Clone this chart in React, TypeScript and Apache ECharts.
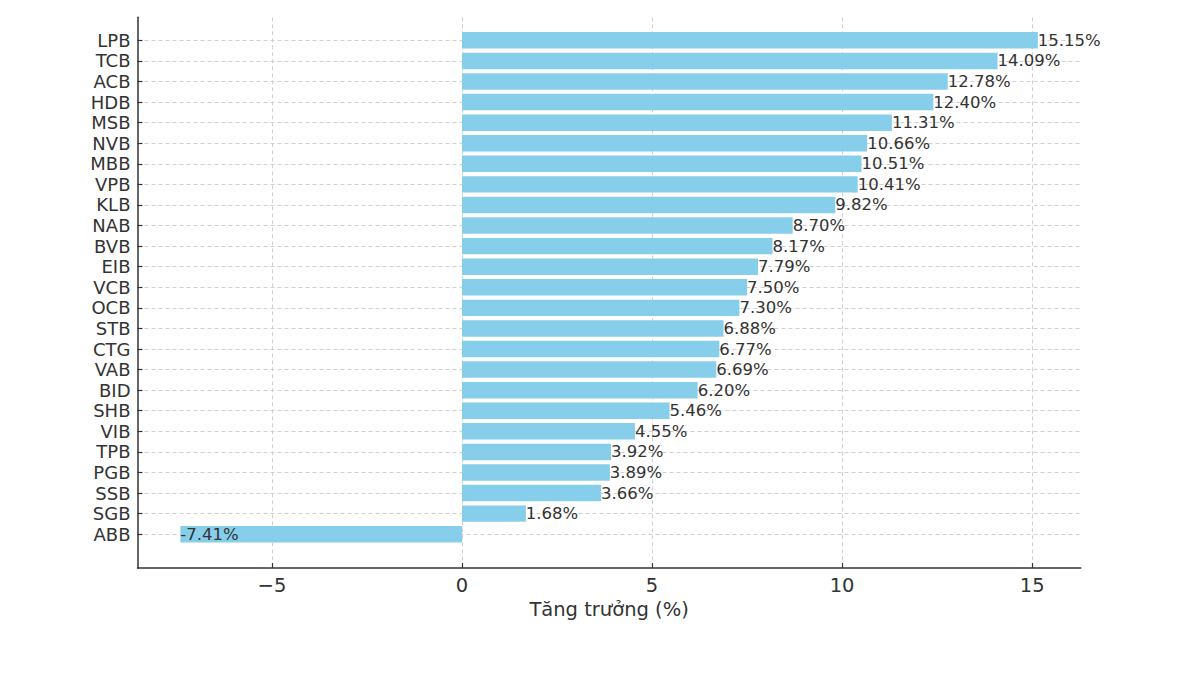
import React, { useEffect, useRef } from "react";
import * as echarts from "echarts";

const banks = ["LPB","TCB","ACB","HDB","MSB","NVB","MBB","VPB","KLB","NAB","BVB","EIB","VCB","OCB","STB","CTG","VAB","BID","SHB","VIB","TPB","PGB","SSB","SGB","ABB"];
const growth = [15.15,14.09,12.78,12.40,11.31,10.66,10.51,10.41,9.82,8.70,8.17,7.79,7.50,7.30,6.88,6.77,6.69,6.20,5.46,4.55,3.92,3.89,3.66,1.68,-7.41];
const xTicks = [-5, 0, 5, 10, 15];
const xTitle = "Tăng trưởng (%)";

const N = banks.length;
const yPositions = banks.map((_, i) => i);

export default function App() {
  const ref = useRef<HTMLDivElement>(null);
  useEffect(() => {
    if (!ref.current) return;
    const chart = echarts.init(ref.current, undefined, { renderer: "svg" });
    const font = "DejaVu Sans";
    const data = growth.map((v, i) => [v, N - 1 - i]);
    chart.setOption({
      animation: false,
      backgroundColor: "#ffffff",
      grid: { left: 137.5, right: 119.3, top: 17.3, bottom: 107, containLabel: false },
      xAxis: {
        type: "value",
        min: -8.538,
        max: 16.278,
        name: xTitle,
        nameLocation: "middle",
        nameGap: 31,
        nameTextStyle: { fontFamily: font, fontSize: 19.5, color: "#333" },
        axisLine: { show: true, onZero: false, lineStyle: { color: "#333", width: 1.5 } },
        axisTick: { show: true, inside: true, length: 5, customValues: xTicks, lineStyle: { color: "#333", width: 1.2 } },
        axisLabel: {
          customValues: xTicks,
          margin: 7,
          fontFamily: font,
          fontSize: 19.5,
          color: "#333",
          formatter: (v: number) => (v < 0 ? "\u2212" + Math.abs(v) : String(v)),
        },
        splitLine: { show: true, lineStyle: { color: "#d0d0d0", type: [4, 3], width: 1 } },
      },
      yAxis: {
        type: "value",
        min: -1.642,
        max: 25.12,
        axisLine: { show: true, onZero: false, lineStyle: { color: "#333", width: 1.5 } },
        axisTick: { show: true, inside: true, length: 5, customValues: yPositions, lineStyle: { color: "#333", width: 1.2 } },
        axisLabel: {
          customValues: yPositions,
          margin: 7,
          fontFamily: font,
          fontSize: 18,
          color: "#333",
          formatter: (v: number) => banks[N - 1 - Math.round(v)] ?? "",
        },
        splitLine: { show: true, lineStyle: { color: "#d0d0d0", type: [4, 3], width: 1 } },
      },
      series: [
        {
          type: "custom",
          clip: false,
          encode: { x: 0, y: 1 },
          data,
          renderItem: (params: any, api: any) => {
            const v = api.value(0);
            const y = api.value(1);
            const p0 = api.coord([0, y + 0.4]);
            const p1 = api.coord([v, y - 0.4]);
            const lab = api.coord([v, y]);
            return {
              type: "group",
              children: [
                {
                  type: "rect",
                  shape: {
                    x: Math.min(p0[0], p1[0]),
                    y: Math.min(p0[1], p1[1]),
                    width: Math.abs(p1[0] - p0[0]),
                    height: Math.abs(p1[1] - p0[1]),
                  },
                  style: { fill: "#87CEEB" },
                },
                {
                  type: "text",
                  x: lab[0],
                  y: lab[1],
                  style: {
                    text: v.toFixed(2) + "%",
                    fill: "#333",
                    fontFamily: font,
                    fontSize: 16.5,
                    align: "left",
                    verticalAlign: "middle",
                  },
                },
              ],
            };
          },
        },
      ],
    });
    return () => chart.dispose();
  }, []);
  return <div ref={ref} style={{ width: 1200, height: 675, position: "absolute", left: 0, top: 0 }} />;
}
